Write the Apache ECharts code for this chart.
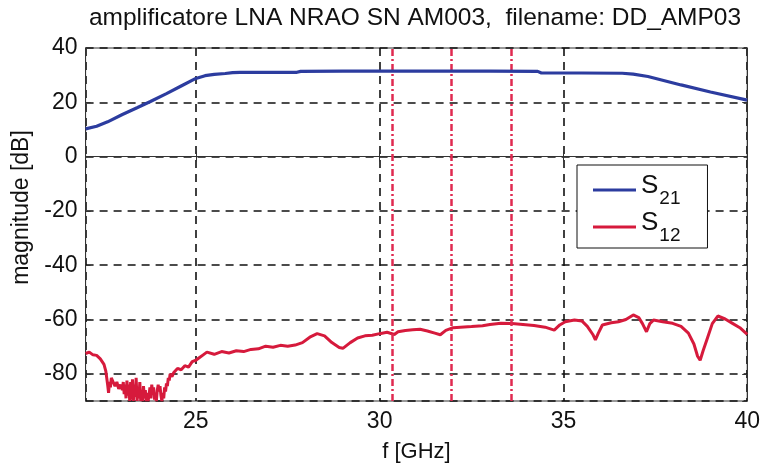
<!DOCTYPE html>
<html>
<head>
<meta charset="utf-8">
<script src="https://cdn.jsdelivr.net/npm/echarts@6/dist/echarts.min.js"></script>
<style>html,body{margin:0;padding:0;background:#fff}#c{width:763px;height:468px}</style>
</head>
<body>
<div id="c"></div>
<script>
// ---- data ----
var titleText = 'amplificatore LNA NRAO SN AM003,  filename: DD_AMP03';
var xName = 'f [GHz]';
var yName = 'magnitude [dB]';
var seriesNames = ['S21', 'S12'];

var s21Freq = [22, 22.3, 22.6, 23.0, 23.4, 23.75, 24.2, 24.6, 25.0, 25.25, 25.5, 25.8, 26.0, 26.2, 27.0, 27.75, 27.85, 29, 31, 33, 34.3, 34.4, 35.5, 36.6, 36.9, 37.3, 38.2, 39, 40];
var s21Val  = [10.2, 11.2, 12.8, 15.5, 18.0, 20.2, 23.2, 26.0, 28.8, 29.8, 30.3, 30.6, 30.9, 31.0, 31.0, 31.05, 31.4, 31.5, 31.5, 31.5, 31.4, 30.8, 30.8, 30.7, 30.4, 29.5, 26.4, 23.8, 20.8];

var s12Freq = [22.00, 22.10, 22.20, 22.30, 22.40, 22.50, 22.55, 22.60, 22.625, 22.65, 22.675, 22.70, 22.75, 22.80, 22.85, 22.90, 22.95, 23.00, 23.025, 23.05, 23.075, 23.10, 23.125, 23.15, 23.175, 23.20, 23.225, 23.25, 23.275, 23.30, 23.325, 23.35, 23.375, 23.40, 23.425, 23.45, 23.475, 23.50, 23.525, 23.55, 23.575, 23.60, 23.625, 23.65, 23.675, 23.70, 23.725, 23.75, 23.775, 23.80, 23.825, 23.85, 23.875, 23.90, 23.925, 23.95, 23.975, 24.00, 24.025, 24.05, 24.075, 24.10, 24.125, 24.15, 24.175, 24.20, 24.225, 24.25, 24.275, 24.30, 24.35, 24.40, 24.45, 24.50, 24.60, 24.70, 24.80, 24.90, 25.00, 25.10, 25.20, 25.30, 25.50, 25.70, 25.90, 26.10, 26.30, 26.50, 26.70, 26.90, 27.10, 27.30, 27.50, 27.70, 27.90, 28.10, 28.30, 28.50, 28.70, 28.90, 29.00, 29.20, 29.40, 29.60, 29.80, 30.00, 30.20, 30.40, 30.50, 30.70, 30.90, 31.10, 31.30, 31.50, 31.65, 31.80, 32.00, 32.20, 32.50, 32.80, 33.00, 33.30, 33.60, 33.90, 34.20, 34.50, 34.75, 34.90, 35.05, 35.30, 35.50, 35.65, 35.80, 35.87, 35.95, 36.06, 36.30, 36.50, 36.70, 36.90, 37.05, 37.15, 37.26, 37.35, 37.45, 37.70, 37.97, 38.20, 38.40, 38.55, 38.65, 38.72, 38.80, 38.90, 39.05, 39.20, 39.40, 39.60, 39.80, 40.00];
var s12Val  = [-72.5, -72.0, -73.0, -73.2, -74.5, -76.5, -79.0, -84.0, -87.0, -83.0, -85.0, -81.5, -83.0, -84.5, -83.0, -85.5, -84.0, -86.0, -83.0, -87.5, -84.0, -89.0, -82.5, -88.0, -84.0, -90.0, -83.0, -89.5, -82.0, -90.0, -84.0, -88.5, -81.5, -90.0, -85.0, -89.0, -83.0, -90.0, -86.0, -90.0, -84.5, -89.0, -86.0, -90.0, -87.0, -90.0, -88.0, -85.0, -89.0, -84.0, -87.0, -85.0, -89.5, -87.0, -90.0, -86.0, -84.0, -86.5, -84.5, -88.0, -90.0, -87.0, -89.0, -85.0, -86.5, -83.5, -84.5, -81.5, -82.5, -80.0, -81.0, -79.5, -80.0, -78.0, -78.5, -77.0, -77.5, -75.5, -75.0, -74.0, -73.0, -72.0, -72.8, -71.8, -72.3, -71.5, -71.8, -71.0, -70.8, -69.8, -70.2, -69.5, -69.8, -69.4, -68.5, -66.5, -65.2, -66.0, -68.5, -70.3, -70.6, -68.5, -66.8, -66.0, -65.8, -65.2, -64.7, -65.5, -64.5, -64.0, -63.8, -63.6, -64.2, -65.0, -65.6, -64.0, -63.0, -62.8, -62.6, -62.3, -61.8, -61.4, -61.5, -61.8, -62.2, -62.8, -63.9, -62.0, -60.8, -60.2, -60.5, -62.5, -65.5, -67.5, -65.0, -62.0, -61.2, -60.8, -60.0, -58.3, -59.3, -61.5, -64.5, -61.5, -60.2, -60.8, -61.4, -62.5, -65.0, -69.0, -73.5, -75.0, -71.5, -67.5, -61.5, -58.7, -59.8, -61.4, -63.0, -65.5];

var markerFreq = [30.35, 31.95, 33.57];

var xMin = 22, xMax = 40, yMin = -90, yMax = 40;

function pairs(xs, ys) { return xs.map(function (x, i) { return [x, ys[i]]; }); }

var FONT = '"Liberation Sans", Arial, Helvetica, sans-serif';
var chart = echarts.init(document.getElementById('c'), null, { renderer: 'canvas' });

var gridDash = { color: '#111', width: 1.6, type: [8, 6] };

chart.setOption({
  animation: false,
  backgroundColor: '#fff',
  textStyle: { fontFamily: FONT, color: '#111' },
  title: {
    text: titleText,
    left: 410, top: 1, textAlign: 'center',
    textStyle: { fontFamily: FONT, fontSize: 24.5, fontWeight: 'normal', color: '#111' }
  },
  grid: { left: 85.6, right: 15, top: 48, bottom: 67, show: true, borderColor: '#333', borderWidth: 1, backgroundColor: '#fff' },
  legend: {
    orient: 'vertical',
    left: 577, top: 165,
    padding: [8, 27, 3, 16],
    itemGap: 2,
    itemWidth: 43, itemHeight: 3,
    icon: 'rect',
    backgroundColor: '#fff',
    borderColor: '#111', borderWidth: 1,
    borderRadius: 0,
    data: seriesNames,
    formatter: function (name) { return '{s|S}{sub|' + name.slice(1) + '}'; },
    textStyle: {
      fontFamily: FONT, color: '#111',
      rich: {
        s: { fontSize: 26, fontFamily: FONT, color: '#111', padding: [0, 0, 8, 0] },
        sub: { fontSize: 19, fontFamily: FONT, color: '#111', padding: [17, 0, 0, 1] }
      }
    }
  },
  xAxis: [{
    type: 'value', min: xMin, max: xMax, splitNumber: 4,
    name: xName, nameLocation: 'middle', nameGap: 40,
    nameTextStyle: { fontFamily: FONT, fontSize: 22, color: '#111' },
    axisLine: { show: true, lineStyle: { color: '#333', width: 1 } },
    axisTick: { show: true, inside: true, length: 5, lineStyle: { color: '#333' } },
    axisLabel: { showMinLabel: false, fontFamily: FONT, fontSize: 23, color: '#111', margin: 9 },
    splitLine: { show: true, lineStyle: gridDash }
  }, {
    type: 'value', min: xMin, max: xMax, splitNumber: 4, position: 'top',
    axisLine: { show: true, lineStyle: { color: '#333', width: 1 } },
    axisTick: { show: true, inside: true, length: 5, lineStyle: { color: '#333' } },
    axisLabel: { show: false }, splitLine: { show: false }
  }],
  yAxis: [{
    type: 'value', min: yMin, max: yMax, splitNumber: 6,
    name: yName, nameLocation: 'middle', nameGap: 48,
    nameTextStyle: { fontFamily: FONT, fontSize: 23, color: '#111', padding: [0, 0, 0, 34] },
    axisLine: { show: true, lineStyle: { color: '#333', width: 1 } },
    axisTick: { show: true, inside: true, length: 5, lineStyle: { color: '#333' } },
    axisLabel: { showMinLabel: false, fontFamily: FONT, fontSize: 23, color: '#111', margin: 8 },
    splitLine: { show: true, lineStyle: gridDash }
  }, {
    type: 'value', min: yMin, max: yMax, splitNumber: 6, position: 'right',
    axisLine: { show: true, lineStyle: { color: '#333', width: 1 } },
    axisTick: { show: true, inside: true, length: 5, lineStyle: { color: '#333' } },
    axisLabel: { show: false }, splitLine: { show: false }
  }],
  series: [{
    name: seriesNames[0], type: 'line', symbol: 'none', xAxisIndex: 0, yAxisIndex: 0,
    data: pairs(s21Freq, s21Val),
    lineStyle: { color: '#2c3c9f', width: 3.2 }, itemStyle: { color: '#2c3c9f' },
    z: 5
  }, {
    name: seriesNames[1], type: 'line', symbol: 'none', xAxisIndex: 0, yAxisIndex: 0,
    data: pairs(s12Freq, s12Val),
    lineStyle: { color: '#d61a3c', width: 3 }, itemStyle: { color: '#d61a3c' },
    z: 4,
    markLine: {
      silent: true, symbol: ['none', 'none'], label: { show: false },
      lineStyle: { color: '#e02a50', width: 2.5, type: [7, 3, 2, 3] },
      data: markerFreq.map(function (f) { return { xAxis: f }; })
    }
  }]
});
</script>
</body>
</html>
